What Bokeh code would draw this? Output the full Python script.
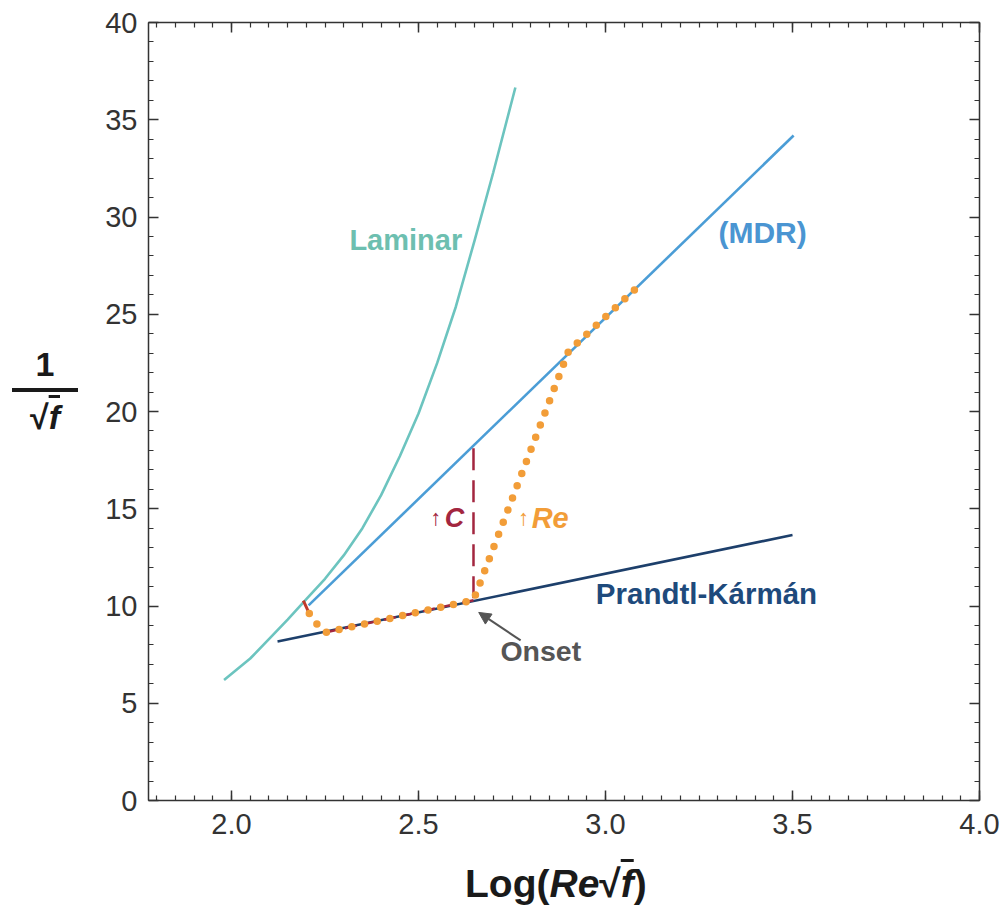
from bokeh.plotting import figure
from bokeh.models import (Label, Arrow, NormalHead, LinearAxis, FixedTicker,
                          PrintfTickFormatter, Range1d, Div)
from bokeh.layouts import row, column
from bokeh.embed import file_html
from bokeh.resources import INLINE

# ---- data ----
laminar_x = [1.98, 2.05, 2.10, 2.15, 2.20, 2.25, 2.30, 2.35, 2.40, 2.45, 2.50, 2.55, 2.60, 2.65, 2.70, 2.759]
laminar_y = [6.2, 7.3, 8.3, 9.3, 10.35, 11.4, 12.6, 14.0, 15.7, 17.7, 19.9, 22.5, 25.4, 28.8, 32.3, 36.66]

mdr_x = [2.206, 3.503]
mdr_y = [10.03, 34.19]

pk_x = [2.123, 3.50]
pk_y = [8.17, 13.65]

red_tick_x = [2.192, 2.208]
red_tick_y = [10.28, 9.61]

red_pk_x = [2.251, 2.647]
red_pk_y = [8.64, 10.30]

red_vert_x = [2.647, 2.647]
red_vert_y = [10.40, 18.20]

orange_x = [2.208, 2.219, 2.251, 2.647, 2.901, 3.094]
orange_y = [9.61, 9.25, 8.64, 10.30, 23.10, 26.55]

x_ticks = [2.0, 2.5, 3.0, 3.5, 4.0]
y_ticks = [0, 5, 10, 15, 20, 25, 30, 35, 40]

FONT = "Liberation Sans"
AX = "#333333"

p = figure(frame_width=831, frame_height=778, min_border_left=58, min_border_right=25,
           min_border_top=22, min_border_bottom=55, output_backend="svg",
           toolbar_location=None, x_range=Range1d(1.778, 4.0), y_range=Range1d(0, 40),
           background_fill_color="white", border_fill_color="white")
p.xgrid.visible = False
p.ygrid.visible = False
p.outline_line_color = None

xminor = [round(1.8 + 0.05 * i, 2) for i in range(45)]
yminor = list(range(0, 41))

def style_axis(ax, ticks, minor, labels=True):
    ax.ticker = FixedTicker(ticks=ticks, minor_ticks=minor)
    ax.axis_line_color = AX
    ax.axis_line_width = 1.5
    ax.major_tick_line_color = AX
    ax.minor_tick_line_color = AX
    ax.major_tick_line_width = 1.5
    ax.minor_tick_line_width = 1.2
    ax.major_tick_in = 10
    ax.major_tick_out = 0
    ax.minor_tick_in = 5
    ax.minor_tick_out = 0
    if labels:
        ax.major_label_text_font = FONT
        ax.major_label_text_font_size = "29px"
        ax.major_label_text_color = "#333333"
    else:
        ax.major_label_overrides = {t: "" for t in ticks}
        ax.major_label_standoff = 0

style_axis(p.xaxis[0], x_ticks, xminor)
p.xaxis[0].formatter = PrintfTickFormatter(format="%.1f")
p.xaxis[0].major_label_standoff = 13
style_axis(p.yaxis[0], y_ticks, yminor)
p.yaxis[0].major_label_standoff = 11

top = LinearAxis()
style_axis(top, x_ticks, xminor, labels=False)
p.add_layout(top, "above")
right = LinearAxis()
style_axis(right, y_ticks, yminor, labels=False)
p.add_layout(right, "right")

# ---- curves ----
p.line(laminar_x, laminar_y, line_color="#6cc4bf", line_width=2.6)
p.line(mdr_x, mdr_y, line_color="#4b9dd6", line_width=2.6)
p.line(pk_x, pk_y, line_color="#1d3f6b", line_width=2.6)
p.line(red_pk_x, red_pk_y, line_color="#a3263f", line_width=2.5, line_dash="12 8")
p.line(red_vert_x, red_vert_y, line_color="#a3263f", line_width=2.5, line_dash="22 10")
p.line(red_tick_x, red_tick_y, line_color="#c0392b", line_width=3)
p.line(orange_x, orange_y, line_color="#f29d38", line_width=7.5, line_dash="0 13",
       line_cap="round")

def lab(x, y, text, color, size, style="bold", align="center", baseline="middle"):
    p.add_layout(Label(x=x, y=y, text=text, text_color=color, text_font=FONT,
                       text_font_size=size, text_font_style=style, text_align=align,
                       text_baseline=baseline))

lab(2.466, 28.8, "Laminar", "#6dbfb0", "29px")
lab(3.42, 29.2, "(MDR)", "#4a95d2", "30px")
lab(3.27, 10.64, "Prandtl-Kármán", "#1e4a7c", "29.5px")
lab(2.827, 7.71, "Onset", "#555555", "28.5px")
lab(2.546, 14.55, "↑", "#a3263f", "22px", style="normal")
lab(2.596, 14.55, "C", "#a3263f", "27px", style="bold italic")
lab(2.781, 14.55, "↑", "#f29d38", "22px", style="normal")
lab(2.852, 14.55, "Re", "#f29d38", "29px", style="bold italic")

p.add_layout(Arrow(end=NormalHead(size=12, fill_color="#555555", line_color="#555555"),
                   x_start=2.773, y_start=8.23, x_end=2.661, y_end=9.67,
                   line_color="#555555", line_width=2))

# ---- axis titles as HTML text ----
TSTYLE = "font-family:'Liberation Sans',Arial,sans-serif;font-weight:bold;color:#1a1a1a;"
ylab = Div(width=90, height=907, margin=0, text=(
    f'<div style="position:relative;width:90px;height:907px;{TSTYLE}">'
    '<div style="position:absolute;left:12px;width:66px;top:347px;font-size:34px;'
    'line-height:34px;text-align:center;">1</div>'
    '<div style="position:absolute;left:12px;width:66px;top:388px;height:0;'
    'border-top:4px solid #1a1a1a;"></div>'
    '<div style="position:absolute;left:12px;width:66px;top:400px;font-size:34px;'
    'line-height:34px;text-align:center;">√<span style="font-style:italic;'
    'text-decoration:overline;">f</span></div></div>'))

xlab = Div(width=914, height=52, margin=0, text=(
    f'<div style="position:relative;width:914px;height:52px;{TSTYLE}">'
    '<div style="position:absolute;left:375px;top:9px;font-size:39px;line-height:39px;'
    'white-space:nowrap;">Log(<i>Re</i>√<i style="text-decoration:overline;">f</i>)</div>'
    '</div>'))

layout = row(ylab, column(p, xlab, spacing=0), spacing=0)

open("out.html", "w").write(file_html(layout, INLINE))
